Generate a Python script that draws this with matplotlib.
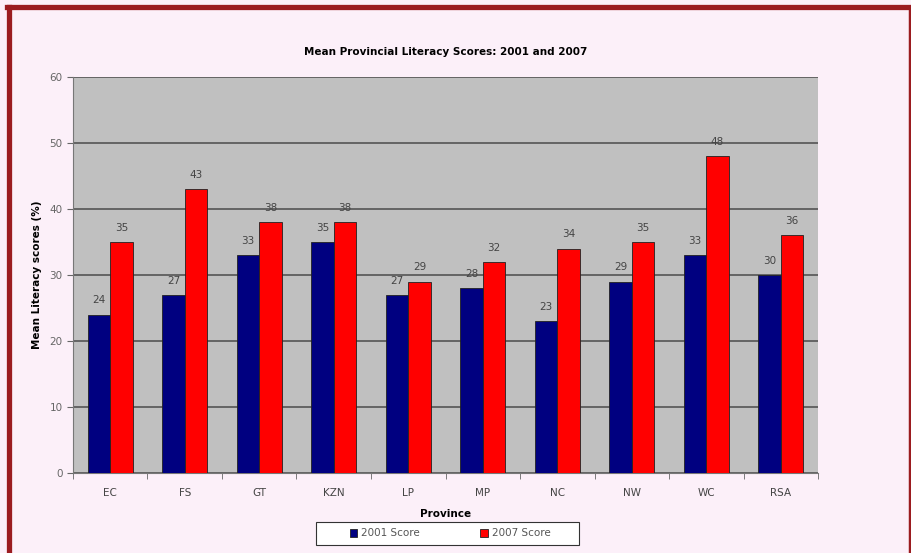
import matplotlib.pyplot as plt
from matplotlib.lines import Line2D
from matplotlib.patches import Rectangle
import numpy as np

provinces = ['EC', 'FS', 'GT', 'KZN', 'LP', 'MP', 'NC', 'NW', 'WC', 'RSA']
score_2001 = [24, 27, 33, 35, 27, 28, 23, 29, 33, 30]
score_2007 = [35, 43, 38, 38, 29, 32, 34, 35, 48, 36]

bg = '#fcf0f9'
fig = plt.figure(figsize=(9.12, 5.53), dpi=100, facecolor=bg)
ax = fig.add_axes([0.080, 0.1447, 0.817, 0.7161])
ax.set_facecolor('#c0c0c0')

x = np.arange(len(provinces))
w = 0.3
b1 = ax.bar(x - w / 2, score_2001, w, color='#000080', edgecolor='#222222', linewidth=0.6, label='2001 Score', zorder=3)
b2 = ax.bar(x + w / 2, score_2007, w, color='#ff0000', edgecolor='#222222', linewidth=0.6, label='2007 Score', zorder=3)

# data labels
for bars in (b1, b2):
    for r in bars:
        ax.text(r.get_x() + r.get_width() / 2, r.get_height() + 1.4, '%d' % r.get_height(),
                ha='center', va='bottom', fontsize=7.5, color='#444444', zorder=4)

ax.set_xlim(-0.5, len(provinces) - 0.5)
ax.set_ylim(0, 60)
ax.set_yticks(range(0, 61, 10))
ax.yaxis.grid(True, color='#555555', linewidth=1.2, zorder=1)
ax.set_xticks(x)
ax.set_xticklabels(provinces)
ax.set_xticks(np.arange(-0.5, len(provinces), 1), minor=True)
ax.tick_params(axis='x', which='major', length=0, pad=11, labelsize=7.5, labelcolor='#444444')
ax.tick_params(axis='x', which='minor', length=4, color='#666666', direction='out')
ax.tick_params(axis='y', length=4, color='#666666', labelsize=7.5, labelcolor='#666666')

for s in ['top', 'right']:
    ax.spines[s].set_visible(False)
ax.spines['left'].set_color('#777777')
ax.spines['bottom'].set_color('#777777')

ax.set_title('Mean Provincial Literacy Scores: 2001 and 2007', fontsize=7.5, fontweight='bold', pad=16)
ax.set_ylabel('Mean Literacy scores (%)', fontsize=7.5, fontweight='bold', labelpad=5)
ax.set_xlabel('Province', fontsize=7.5, fontweight='bold', labelpad=8)

# legend box drawn separately so its padding can be wider than matplotlib's
fig.add_artist(Rectangle((316 / 912, 1 - 545 / 553), 263 / 912, 23 / 553, transform=fig.transFigure,
                         facecolor='white', edgecolor='#333333', linewidth=0.8))
leg = fig.legend(handles=[b1, b2], loc='center', bbox_to_anchor=(450 / 912, 1 - 533.5 / 553), ncol=2,
                 fontsize=7.5, frameon=False, handlelength=0.7, handleheight=0.7,
                 handletextpad=0.4, columnspacing=5.8, borderaxespad=0)
for t in leg.get_texts():
    t.set_color('#555555')

# dark red frame
fc = '#9b1c20'
fig.add_artist(Line2D([7 / 912, 1], [1 - 6.5 / 553] * 2, color=fc, linewidth=3.8, transform=fig.transFigure))
fig.add_artist(Line2D([9.5 / 912] * 2, [0, 1 - 6.5 / 553], color=fc, linewidth=3.8, transform=fig.transFigure))
fig.add_artist(Line2D([910.5 / 912] * 2, [0, 1 - 6.5 / 553], color=fc, linewidth=2.5, transform=fig.transFigure))

fig.savefig('out.png', dpi=100, facecolor=bg)
